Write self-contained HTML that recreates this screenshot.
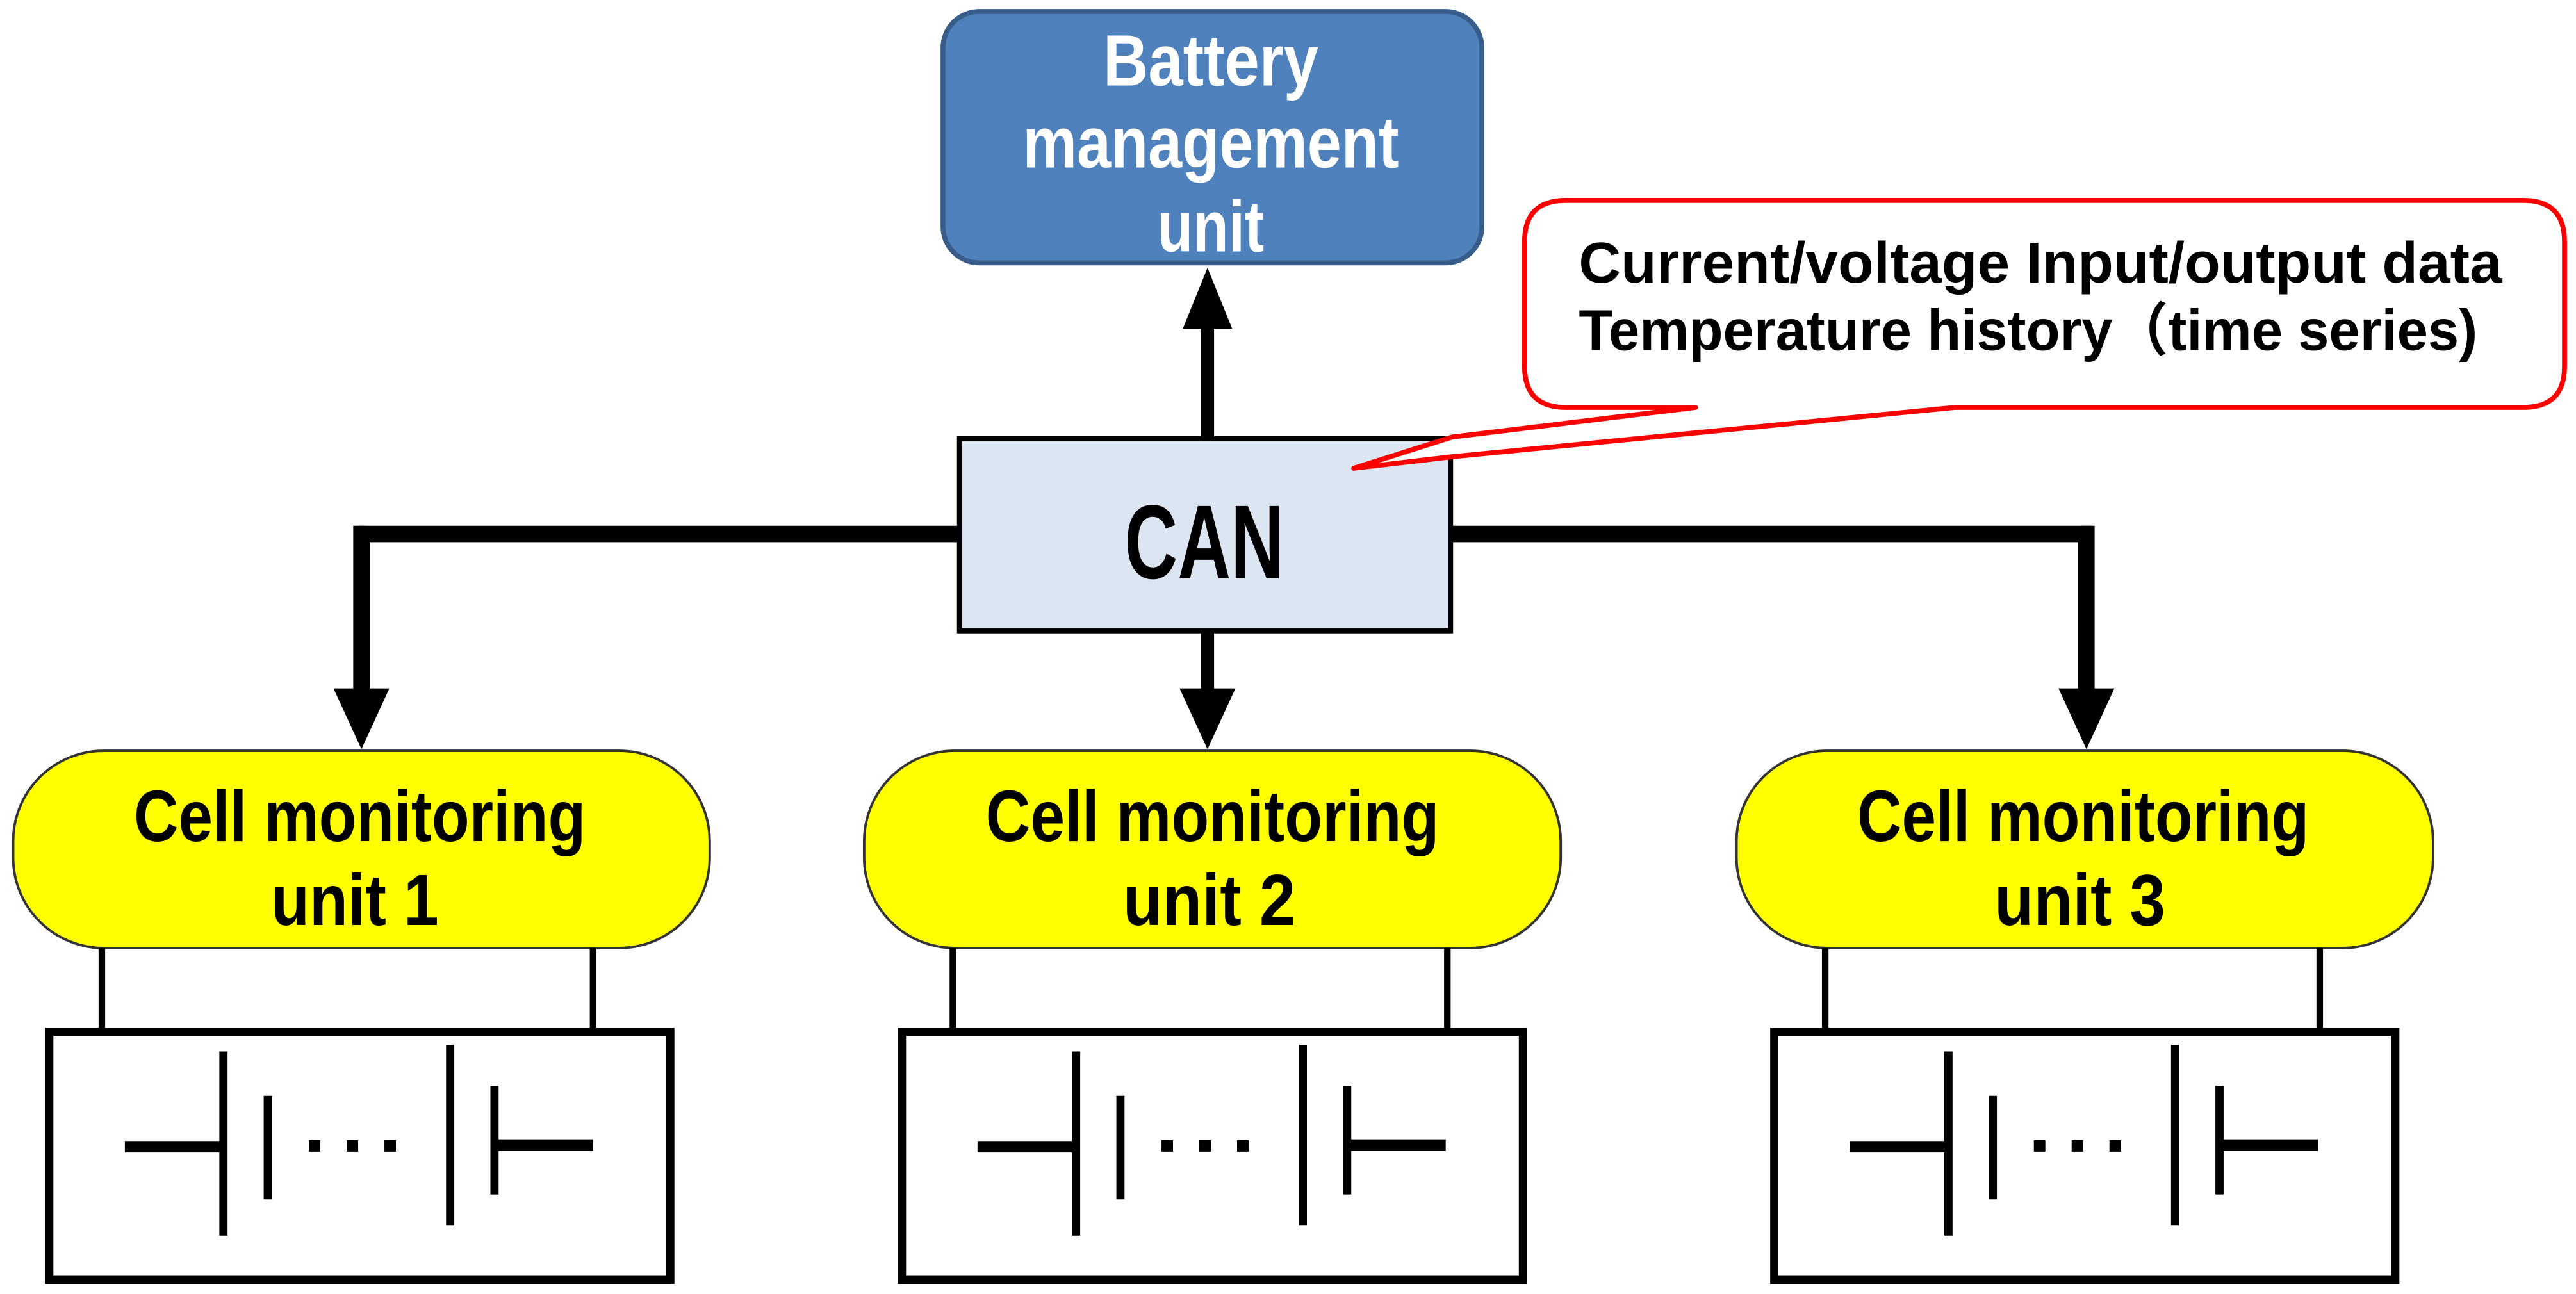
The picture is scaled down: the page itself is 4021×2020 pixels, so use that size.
<!DOCTYPE html>
<html><head><meta charset="utf-8"><style>html,body{margin:0;padding:0;background:#fff}svg{display:block}</style></head>
<body>
<svg width="4021" height="2020" viewBox="0 0 1568 787.6" preserveAspectRatio="none" xmlns="http://www.w3.org/2000/svg" font-family="'Liberation Sans','Noto Sans CJK JP',sans-serif" font-weight="bold">
<rect width="1568" height="788" fill="#fff"/>
<!-- Battery management unit -->
<rect x="574" y="7" width="328" height="153" rx="22" fill="#4f81bd" stroke="#385d8a" stroke-width="3"/>
<g fill="#fff" font-size="44" text-anchor="middle">
<text x="737" y="52" textLength="131" lengthAdjust="spacingAndGlyphs">Battery</text>
<text x="737" y="102" textLength="229" lengthAdjust="spacingAndGlyphs">management</text>
<text x="737" y="153" textLength="65" lengthAdjust="spacingAndGlyphs">unit</text>
</g>
<!-- arrow up -->
<line x1="735" y1="266" x2="735" y2="195" stroke="#000" stroke-width="8"/>
<polygon points="735,163 720,200 750,200" fill="#000"/>
<!-- bus lines -->
<polyline points="220,420 220,325 583,325" fill="none" stroke="#000" stroke-width="10"/>
<polyline points="884,325 1270,325 1270,420" fill="none" stroke="#000" stroke-width="10"/>
<line x1="220" y1="320" x2="220" y2="425" stroke="#000" stroke-width="7"/>
<line x1="1270" y1="320" x2="1270" y2="425" stroke="#000" stroke-width="7"/>
<line x1="735" y1="385" x2="735" y2="425" stroke="#000" stroke-width="8"/>
<polygon points="220,456 203,419 237,419" fill="#000"/>
<polygon points="735,456 718,419 752,419" fill="#000"/>
<polygon points="1270,456 1253,419 1287,419" fill="#000"/>
<!-- CAN -->
<rect x="584" y="267" width="299" height="117" fill="#dce6f2" stroke="#000" stroke-width="3"/>
<text x="733" y="352" font-size="64" text-anchor="middle" textLength="97" lengthAdjust="spacingAndGlyphs">CAN</text>
<!-- callout -->
<path d="M953,122 H1536 Q1561,122 1561,147 V223 Q1561,248 1536,248 H1190 L884,278 L824,285 L884,266 L1032,248 H953 Q928,248 928,223 V147 Q928,122 953,122 Z" fill="#fff" stroke="#ff0000" stroke-width="3" stroke-linejoin="round"/>
<g font-size="35" fill="#000">
<text x="961" y="172" textLength="562" lengthAdjust="spacingAndGlyphs">Current/voltage Input/output data</text>
<text x="961" y="213" textLength="547" lengthAdjust="spacingAndGlyphs">Temperature history（time series)</text>
</g>
<!-- cell monitoring units -->
<g fill="#ffff00" stroke="#333" stroke-width="1.5">
<rect x="8" y="457" width="424" height="120" rx="55"/>
<rect x="526" y="457" width="424" height="120" rx="55"/>
<rect x="1057" y="457" width="424" height="120" rx="55"/>
</g>
<g font-size="44" fill="#000" text-anchor="middle">
<text x="219" y="512" textLength="275" lengthAdjust="spacingAndGlyphs">Cell monitoring</text>
<text x="216" y="563" textLength="102" lengthAdjust="spacingAndGlyphs">unit 1</text>
<text x="738" y="512" textLength="276" lengthAdjust="spacingAndGlyphs">Cell monitoring</text>
<text x="736" y="563" textLength="105" lengthAdjust="spacingAndGlyphs">unit 2</text>
<text x="1268" y="512" textLength="275" lengthAdjust="spacingAndGlyphs">Cell monitoring</text>
<text x="1266" y="563" textLength="104" lengthAdjust="spacingAndGlyphs">unit 3</text>
</g>
<!-- leads -->
<g stroke="#000" stroke-width="4">
<line x1="62" y1="577" x2="62" y2="628"/><line x1="361" y1="577" x2="361" y2="628"/>
<line x1="580" y1="577" x2="580" y2="628"/><line x1="881" y1="577" x2="881" y2="628"/>
<line x1="1111" y1="577" x2="1111" y2="628"/><line x1="1412" y1="577" x2="1412" y2="628"/>
</g>
<!-- battery packs -->
<g id="b1">
<rect x="30" y="628" width="378" height="151" fill="#fff" stroke="#000" stroke-width="5"/>
<g stroke="#000" stroke-width="5" fill="none">
<line x1="76" y1="698" x2="136" y2="698" stroke-width="7"/>
<line x1="136" y1="640" x2="136" y2="752"/>
<line x1="163" y1="667" x2="163" y2="730"/>
<line x1="274" y1="636" x2="274" y2="746"/>
<line x1="301" y1="661" x2="301" y2="727"/>
<line x1="301" y1="697" x2="361" y2="697" stroke-width="7"/>
</g>
<rect x="188" y="694" width="7" height="7" fill="#000"/>
<rect x="211" y="694" width="7" height="7" fill="#000"/>
<rect x="234" y="694" width="7" height="7" fill="#000"/>
</g>
<use href="#b1" x="519"/>
<use href="#b1" x="1050"/>
</svg>
</body></html>
